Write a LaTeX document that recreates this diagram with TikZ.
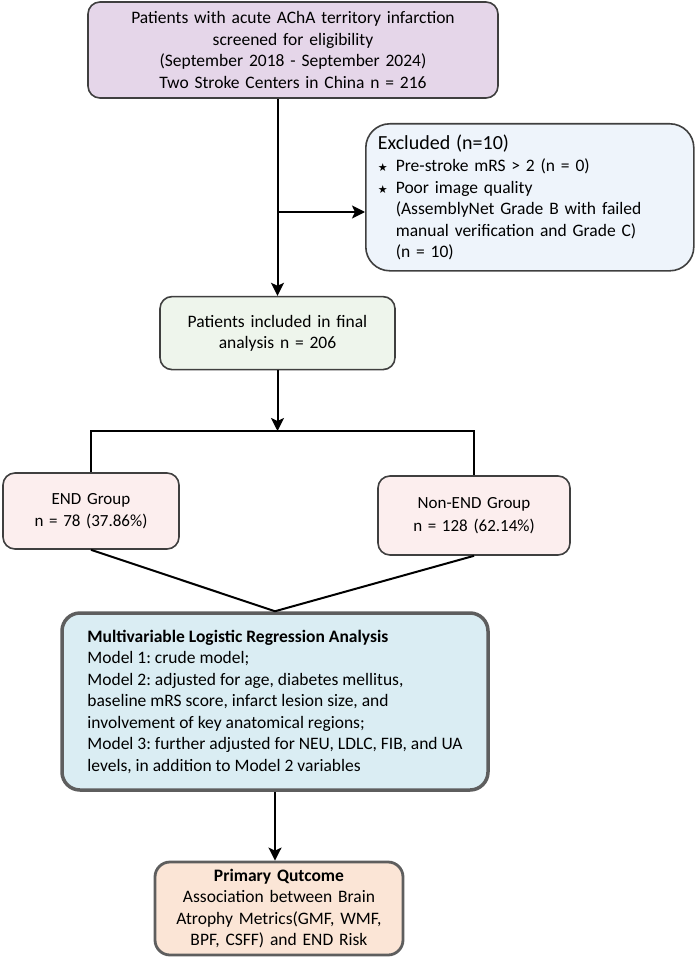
\documentclass[tikz,border=0pt]{standalone}
\usepackage{xcolor}
\usepackage{tikz}
\usepackage{fontspec}
\setmainfont{Carlito}
\newfontfamily\starfont{DejaVu Sans}
\usetikzlibrary{arrows.meta,positioning,calc}
\frenchspacing
\definecolor{boxline}{HTML}{3F3F3F}
\definecolor{heavyline}{HTML}{5E5E5E}
\definecolor{screenfill}{HTML}{E5D6E9}
\definecolor{exclfill}{HTML}{EEF4FB}
\definecolor{finalfill}{HTML}{EEF5EC}
\definecolor{groupfill}{HTML}{FCEEEE}
\definecolor{regrfill}{HTML}{DAEDF3}
\definecolor{outcfill}{HTML}{FBE5D6}
\newcommand{\bul}{\makebox[18pt][l]{\starfont\fontsize{11}{11}\selectfont ★}}
\tikzstyle{flowbox} = [rectangle, draw=boxline, line width=1.6pt, rounded corners=12pt,
    align=center, inner sep=0pt, font=\fontsize{17.5}{21.5}\selectfont]
\tikzstyle{arrow} = [-{Stealth[length=13pt,width=13pt,inset=3pt]}, line width=2pt, black]
\tikzstyle{link} = [line width=2pt, black]

\begin{document}
\begin{tikzpicture}[x=1pt,y=-1pt]
\path[fill=white, use as bounding box] (0,0) rectangle (700,960);

\node[flowbox, fill=screenfill, minimum width=410pt, minimum height=96pt, text width=410pt] (screen) at (293,50)
  {Patients with acute AChA territory infarction\\ screened for eligibility\\ (September 2018 - September 2024)\\ Two Stroke Centers in China n = 216};
\node[flowbox, fill=exclfill, rounded corners=24pt, minimum width=328pt, minimum height=147pt,
  text width=304pt, inner xsep=12pt, align=left, anchor=north west] (excl) at (365,123)
  {{\fontsize{20}{24}\selectfont Excluded (n=10)}\\[1pt]
   \bul Pre-stroke mRS > 2 (n = 0)\\
   \bul Poor image quality\\
   \hspace*{18pt}(AssemblyNet Grade B with failed\\
   \hspace*{18pt}manual verification and Grade C)\\
   \hspace*{18pt}(n = 10)};
\node[flowbox, fill=finalfill, minimum width=235pt, minimum height=73pt, text width=235pt,
  below=197pt of screen, xshift=-15.5pt] (final)
  {Patients included in final\\ analysis n = 206};
\node[flowbox, fill=groupfill, minimum width=176pt, minimum height=76pt, text width=176pt,
  font=\fontsize{17}{22.5}\selectfont] (endg) at (91,511)
  {END Group\\ n = 78 (37.86\%)};
\node[flowbox, fill=groupfill, minimum width=192pt, minimum height=79pt, text width=192pt,
  font=\fontsize{17}{22.5}\selectfont] (nonend) at (474,515.5)
  {Non-END Group\\ n = 128 (62.14\%)};
\node[flowbox, fill=regrfill, draw=heavyline, line width=3.5pt, rounded corners=18pt,
  minimum width=426pt, minimum height=177pt, align=left] (regr) at (275,701.5)
  {\textbf{Multivariable Logistic Regression Analysis}\\
   Model 1: crude model;\\
   Model 2: adjusted for age, diabetes mellitus,\\
   baseline mRS score, infarct lesion size, and\\
   involvement of key anatomical regions;\\
   Model 3: further adjusted for NEU, LDLC, FIB, and UA\\
   levels, in addition to Model 2 variables};
\node[flowbox, fill=outcfill, draw=heavyline, line width=2.8pt, rounded corners=15pt,
  minimum width=248pt, minimum height=93pt, text width=248pt] (outc) at (279,908.5)
  {\textbf{Primary Qutcome}\\ Association between Brain\\ Atrophy Metrics(GMF, WMF,\\ BPF, CSFF) and END Risk};

\coordinate (brk) at (277.5,212);
\coordinate (fork) at (277.5,431);

\draw[arrow] (screen.south -| final.north) -- (final.north);
\draw[arrow] (brk) -- (brk -| excl.west);
\draw[arrow] (final.south) -- (fork);
\draw[link] (endg.north) -- (endg.north |- fork) -- (nonend.north |- fork) -- (nonend.north);
\draw[link] (endg.south) -- (regr.north);
\draw[link] (nonend.south) -- (regr.north);
\draw[arrow] (regr.south) -- (regr.south |- outc.north);
\end{tikzpicture}
\end{document}
